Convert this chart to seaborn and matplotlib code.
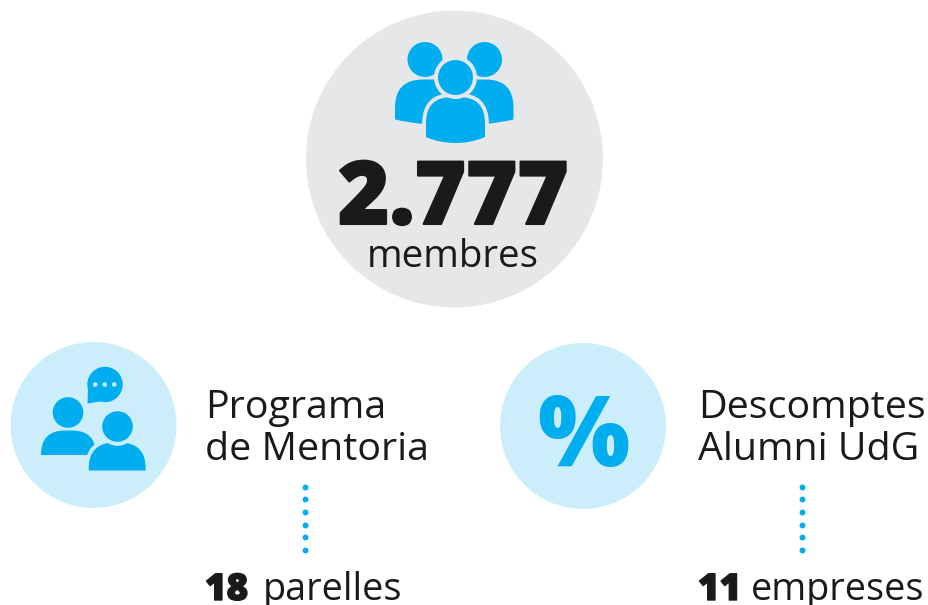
# %%
import seaborn as sns
import matplotlib.pyplot as plt
import matplotlib.patheffects as pe
from matplotlib.path import Path
from matplotlib.patches import Circle, PathPatch, Polygon

sns.set_theme(style='white')
plt.rcParams['font.family'] = ['Open Sans', 'DejaVu Sans']

total_members = '2.777'
total_label = 'membres'
program_titles = [['Programa', 'de Mentoria'], ['Descomptes', 'Alumni UdG']]
program_values = ['18', '11']
program_units = ['parelles', 'empreses']

blue = '#00AEEF'
light = '#CCEEFB'
grey = '#E6E7E8'


def body(ax, x0, x1, top, bot, sag, rad, halo=None):
    verts = [(x0, bot), (x0, top + rad), (x0, top), (x0 + rad, top), (x1 - rad, top), (x1, top), (x1, top + rad),
             (x1, bot), (x1 - (x1 - x0) * .3, bot + sag), (x0 + (x1 - x0) * .3, bot + sag), (x0, bot), (x0, bot)]
    codes = [Path.MOVETO, Path.LINETO, Path.CURVE3, Path.CURVE3, Path.LINETO, Path.CURVE3, Path.CURVE3,
             Path.LINETO, Path.CURVE4, Path.CURVE4, Path.CURVE4, Path.CLOSEPOLY]
    if halo:
        ax.add_patch(PathPatch(Path(verts, codes), fc=blue, ec=halo, lw=5.5, zorder=3))
    ax.add_patch(PathPatch(Path(verts, codes), fc=blue, ec='none', zorder=3))


def head(ax, x, y, r, halo=None):
    if halo:
        ax.add_patch(Circle((x, y), r + 4, fc=halo, ec='none', zorder=3))
    ax.add_patch(Circle((x, y), r, fc=blue, ec='none', zorder=3))


# %%
fig, ax = plt.subplots(figsize=[9.29, 6.05], dpi=100)
fig.subplots_adjust(0, 0, 1, 1)
ax.set(xlim=[0, 929], ylim=[605, 0])
ax.axis('off')

ax.add_patch(Circle((454.5, 159), 148.5, fc=grey, ec='none'))
ax.add_patch(Circle((93.5, 425), 83, fc=light, ec='none'))
ax.add_patch(Circle((583, 426), 83, fc=light, ec='none'))

# group icon
head(ax, 425, 59.5, 17.5)
head(ax, 484.5, 59.5, 17.5)
body(ax, 395, 513.5, 79.5, 119.5, 8, 28)
body(ax, 426, 485, 97, 137, 8, 26, halo=grey)
head(ax, 455.5, 77.5, 17.5, halo=grey)

# mentoring icon
head(ax, 68, 412.5, 15.3)
body(ax, 41, 96, 430.5, 455, 0, 24)
body(ax, 88.7, 145.7, 442.5, 470.5, 0, 26, halo=light)
head(ax, 117.5, 426.5, 15.3, halo=light)
ax.add_patch(Circle((105, 384.5), 17.7, fc=blue, ec='none', zorder=3))
ax.add_patch(Polygon([(87.5, 403.5), (88, 385), (103, 401)], fc=blue, ec='none', zorder=3))
for x in [95.3, 104.8, 114.3]:
    ax.add_patch(Circle((x, 384.5), 2.3, fc=light, ec='none', zorder=4))

ax.text(583, 466, '%', color=blue, fontsize=70, fontweight=800, ha='center', va='baseline')

heavy = [pe.withStroke(linewidth=1.5, foreground='k')]
ax.text(453.5, 224, total_members, color='k', fontsize=63, fontweight=800, ha='center', va='baseline', path_effects=heavy)
ax.text(453, 267, total_label, color='k', fontsize=27.7, ha='center', va='baseline')

for x0, x1, dots_x, titles, value, unit in zip([205, 698], [263, 751], [305.5, 802.5], program_titles, program_values, program_units):
    ax.text(x0, 418, titles[0], color='k', fontsize=28.4, va='baseline')
    ax.text(x0, 460, titles[1], color='k', fontsize=28.4, va='baseline')
    ax.text(x0, 600, value, color='k', fontsize=26.5, fontweight=800, va='baseline', path_effects=[pe.withStroke(linewidth=1, foreground='k')])
    ax.text(x1, 600, unit, color='k', fontsize=27.2, va='baseline')
    sns.scatterplot(x=[dots_x] * 6, y=[486.7, 499.4, 512, 524.7, 537.4, 550], color=blue, s=18, linewidth=0, ax=ax, legend=False)

plt.savefig('out.png', dpi=100)
